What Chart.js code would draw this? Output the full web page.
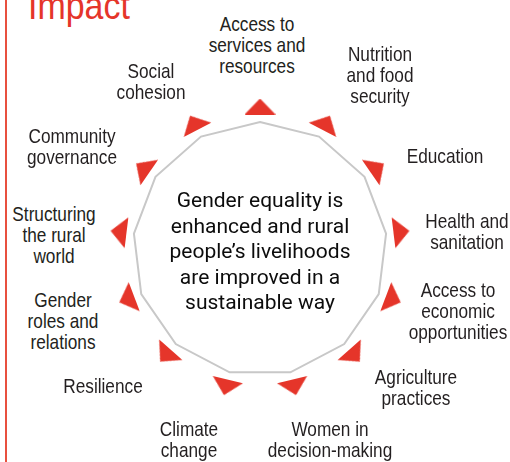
<!DOCTYPE html>
<html>
<head>
<meta charset="utf-8">
<script src="https://cdn.jsdelivr.net/npm/chart.js@4.4.1/dist/chart.umd.min.js"></script>
<style>
  html, body { margin: 0; padding: 0; background: #fff; }
  #page { position: relative; width: 510px; height: 462px; overflow: hidden; }
  #rule { position: absolute; left: 5px; top: 0; width: 2px; height: 462px; background: #e8503f; }
  #title {
    position: absolute; left: 28px; top: -14px;
    font: 39px/40px "Liberation Sans", Arial, sans-serif;
    color: #e5352a; white-space: nowrap;
    transform: scaleX(0.87); transform-origin: left top;
  }
  #wheel { position: absolute; left: 100px; top: 89px; }
  .lbl {
    position: absolute; transform: translate(-50%, -50%) scaleX(0.82);
    text-align: center; white-space: nowrap;
    font: 21px/21px "Liberation Sans", Arial, sans-serif;
    color: #231f20;
  }
  #goal {
    position: absolute; left: 260px; top: 252px; transform: translate(-50%, -50%);
    text-align: center; white-space: nowrap;
    font: 21px/25.5px Roboto, "Noto Sans", sans-serif;
    color: #0c0c0c;
  }
</style>
</head>
<body>
<div id="page">
  <div id="rule"></div>
  <div id="title">Impact</div>
  <canvas id="wheel" width="320" height="320"></canvas>
  <div id="goal"></div>
  <div id="labels"></div>
</div>
<script>
// --- Data ---
const categories = [
    ['Access to', 'services and', 'resources'],
    ['Nutrition', 'and food', 'security'],
    ['Education'],
    ['Health and', 'sanitation'],
    ['Access to', 'economic', 'opportunities'],
    ['Agriculture', 'practices'],
    ['Women in', 'decision-making'],
    ['Climate', 'change'],
    ['Resilience'],
    ['Gender', 'roles and', 'relations'],
    ['Structuring', 'the rural', 'world'],
    ['Community', 'governance'],
    ['Social', 'cohesion']
];

// ring outline and marker distance from centre (scale units = px, max 160)
const ringValues = [127, 127, 127, 127, 127, 127, 127, 127, 127, 127, 127, 127, 127];
const markerValues = [142.5, 142.5, 142.5, 142.5, 142.5, 142.5, 142.5, 142.5, 142.5, 142.5, 142.5, 142.5, 142.5];

const goalLines = [
    'Gender equality is',
    'enhanced and rural',
    'people\u2019s livelihoods',
    'are improved in a',
    'sustainable way'
];

// Label layout: centre of each text block on the page
const labelCenters = [
    [257, 44], [380, 74], [445, 155], [467, 231], [458, 310],
    [416, 387], [330, 439], [189, 439], [103, 385], [63, 320],
    [54, 234], [72, 146], [151, 81]
];

const RED = '#e5352a';

// --- Text ---
document.getElementById('goal').innerHTML = goalLines.join('<br>');

const labelsDiv = document.getElementById('labels');
categories.forEach((lines, i) => {
    const div = document.createElement('div');
    div.className = 'lbl';
    div.style.left = labelCenters[i][0] + 'px';
    div.style.top = labelCenters[i][1] + 'px';
    div.innerHTML = lines.join('<br>');
    labelsDiv.appendChild(div);
});

// --- Marker (flat triangle, apex up) ---
function makeMarker() {
    const c = document.createElement('canvas');
    c.width = 31;
    c.height = 16;
    const ctx = c.getContext('2d');
    ctx.fillStyle = RED;
    ctx.beginPath();
    ctx.moveTo(0, 16);
    ctx.lineTo(15.5, 0);
    ctx.lineTo(31, 16);
    ctx.closePath();
    ctx.fill();
    return c;
}
const marker = makeMarker();

// --- Chart ---
new Chart(document.getElementById('wheel'), {
    type: 'radar',
    data: {
        labels: categories,
        datasets: [
            {
                data: ringValues,
                borderColor: '#c8c8c8',
                borderWidth: 2,
                fill: false,
                pointRadius: 0,
                tension: 0
            },
            {
                data: markerValues,
                showLine: false,
                fill: false,
                borderWidth: 0,
                backgroundColor: 'rgba(0,0,0,0)',
                pointStyle: marker,
                pointRadius: 8,
                pointRotation: ctx => ctx.dataIndex * 360 / categories.length
            }
        ]
    },
    options: {
        responsive: false,
        animation: false,
        events: [],
        plugins: {
            legend: { display: false },
            tooltip: { enabled: false }
        },
        scales: {
            r: {
                min: 0,
                max: 160,
                ticks: { display: false },
                grid: { display: false },
                angleLines: { display: false },
                pointLabels: { display: false }
            }
        }
    }
});
</script>
</body>
</html>
